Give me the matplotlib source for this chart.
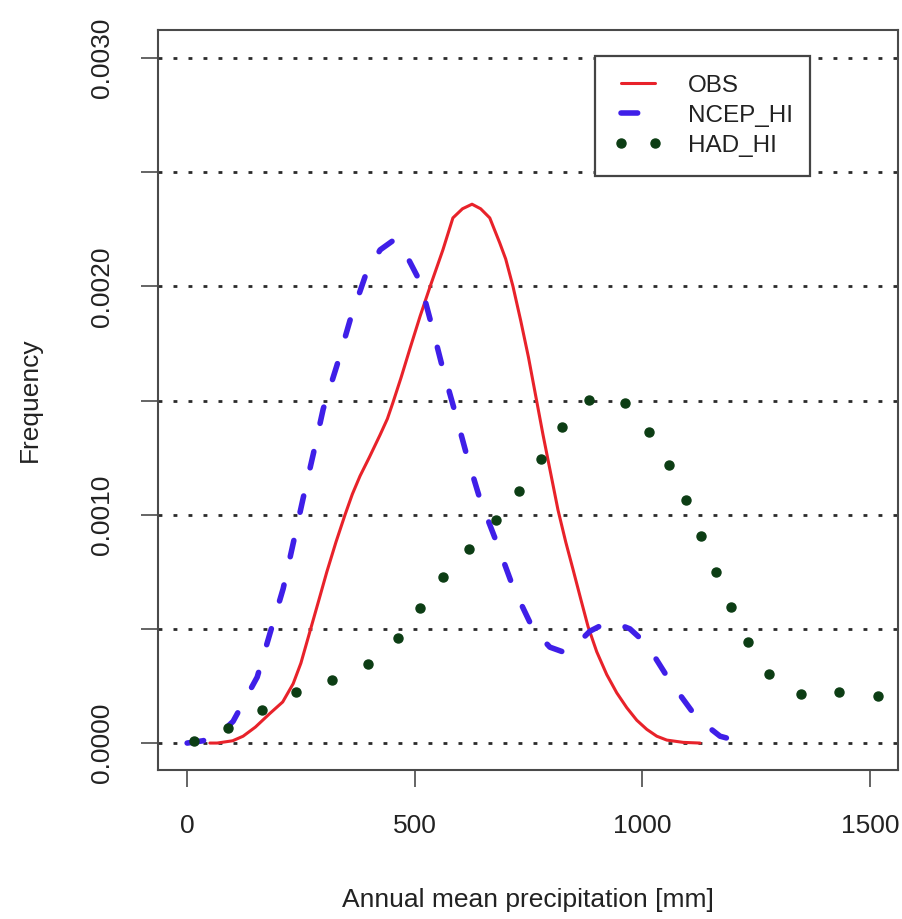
import matplotlib.pyplot as plt

plt.rcParams['font.family'] = ['Liberation Sans', 'DejaVu Sans']

# density curves (x in mm, y frequency)
obs_x = [50, 66, 100, 123, 150, 182, 210, 233, 250, 270, 290, 307, 327, 347, 363, 380,
         400, 424, 440, 452, 470, 490, 512, 534, 562, 584, 605, 626, 645, 665, 687,
         700, 716, 733, 750, 766, 782, 798, 815, 832, 848, 865, 881, 900, 922, 944,
         966, 988, 1010, 1032, 1054, 1090, 1127]
obs_y = [0.0, 0.0, 0.00001, 0.00003, 0.00007, 0.00013, 0.00018, 0.00026, 0.00035,
         0.00049, 0.00063, 0.00075, 0.00088, 0.001, 0.00109, 0.00117, 0.00125, 0.00135,
         0.00142, 0.00149, 0.0016, 0.00173, 0.00187, 0.002, 0.00216, 0.0023, 0.00234,
         0.00236, 0.00234, 0.0023, 0.00219, 0.00212, 0.002, 0.00185, 0.00169, 0.00152,
         0.00135, 0.00119, 0.00102, 0.00088, 0.00076, 0.00063, 0.00051, 0.0004, 0.0003,
         0.00022, 0.000155, 0.0001, 0.00006, 0.00003, 0.000013, 0.000003, 0.0]

ncep_x = [0, 35, 72, 101, 154, 182, 211, 233, 255, 277, 299, 329, 358, 391, 424, 452,
          468, 512, 540, 562, 589, 615, 644, 681, 716, 760, 797, 825, 850, 885, 929,
          973, 1010, 1061, 1120, 1171, 1226]
ncep_y = [0.0, 0.00001, 0.00004, 0.000095, 0.000289, 0.00048, 0.000676, 0.000874,
          0.001073, 0.001264, 0.001463, 0.001653, 0.001852, 0.002043, 0.00216, 0.0022,
          0.00219, 0.00202, 0.00181, 0.001638, 0.001447, 0.001256, 0.001065, 0.000874,
          0.000684, 0.0005, 0.00042, 0.0004, 0.00042, 0.00049, 0.000535, 0.0005,
          0.000433, 0.000271, 0.00011, 0.00003, 0.0]

had_x = [15, 90, 165, 239, 318, 398, 463, 512, 562, 619, 679, 729, 778, 824, 883, 962,
         1014, 1059, 1096, 1129, 1162, 1195, 1232, 1278, 1349, 1432, 1518]
had_y = [0.00001, 0.000067, 0.000143, 0.000223, 0.000278, 0.000347, 0.00046, 0.000591,
         0.000727, 0.000851, 0.000975, 0.001105, 0.001245, 0.001386, 0.001504, 0.00149,
         0.001364, 0.001217, 0.001066, 0.000909, 0.000751, 0.000594, 0.000443, 0.000304,
         0.000217, 0.000224, 0.000205]

grid_levels = [0.0, 0.0005, 0.001, 0.0015, 0.002, 0.0025, 0.003]
xticks = [0, 500, 1000, 1500]
xticklabels = ['0', '500', '1000', '1500']
yticklabels = ['0.0000', '', '0.0010', '', '0.0020', '', '0.0030']

red = '#e8222a'
blue = '#3f1fe8'
green = '#0c3d14'
frame = '#4a4a4a'
txt = '#222222'

fig = plt.figure(figsize=(9.03, 9.19), dpi=100)
ax = fig.add_axes([158/903, 1-770/919, 740/903, 740/919])

for g in grid_levels:
    ax.axhline(g, color='#2b2b2b', lw=2, linestyle=(0, (1.4, 4)), zorder=1)

ax.plot(obs_x, obs_y, color=red, lw=2.2, solid_capstyle='round',
        solid_joinstyle='round', label='OBS', zorder=3)
ax.plot(ncep_x, ncep_y, color=blue, lw=4, linestyle=(0, (3.0, 5.2)),
        dash_capstyle='round', label='NCEP_HI', zorder=3)
ax.plot(had_x, had_y, linestyle='none', marker='o', ms=6.5, color=green,
        label='HAD_HI', zorder=3)

ax.set_xlim(-64, 1562)
ax.set_ylim(-0.000118, 0.003123)

ax.set_xticks(xticks)
ax.set_xticklabels(xticklabels)
ax.set_yticks(grid_levels)
ax.set_yticklabels(yticklabels)
ax.tick_params(direction='out', length=12, width=1.2, color=frame,
               labelsize=19, labelcolor=txt, pad=20)
ax.tick_params(axis='y', labelrotation=90)
for lab in ax.get_yticklabels():
    lab.set_va('center')

for s in ax.spines.values():
    s.set_color(frame)
    s.set_linewidth(1.5)

leg = ax.legend(loc='upper left',
                bbox_to_anchor=(595/903, 1-177/919, 215/903, 121/919),
                bbox_transform=fig.transFigure, mode='expand', borderaxespad=0,
                fontsize=17.5, handlelength=2.0, handletextpad=1.03, numpoints=2,
                fancybox=False, framealpha=1, edgecolor='#444444',
                borderpad=0.78, labelspacing=0.32)
leg.get_frame().set_linewidth(1.6)
for t in leg.get_texts():
    t.set_color(txt)

fig.text(528/903, 1-900/919, 'Annual mean precipitation [mm]', ha='center',
         va='center', fontsize=19, color=txt)
fig.text(30/903, 1-400/919, 'Frequency', rotation=90, ha='center', va='center',
         fontsize=19, color=txt)

fig.savefig('out.png', dpi=100)
